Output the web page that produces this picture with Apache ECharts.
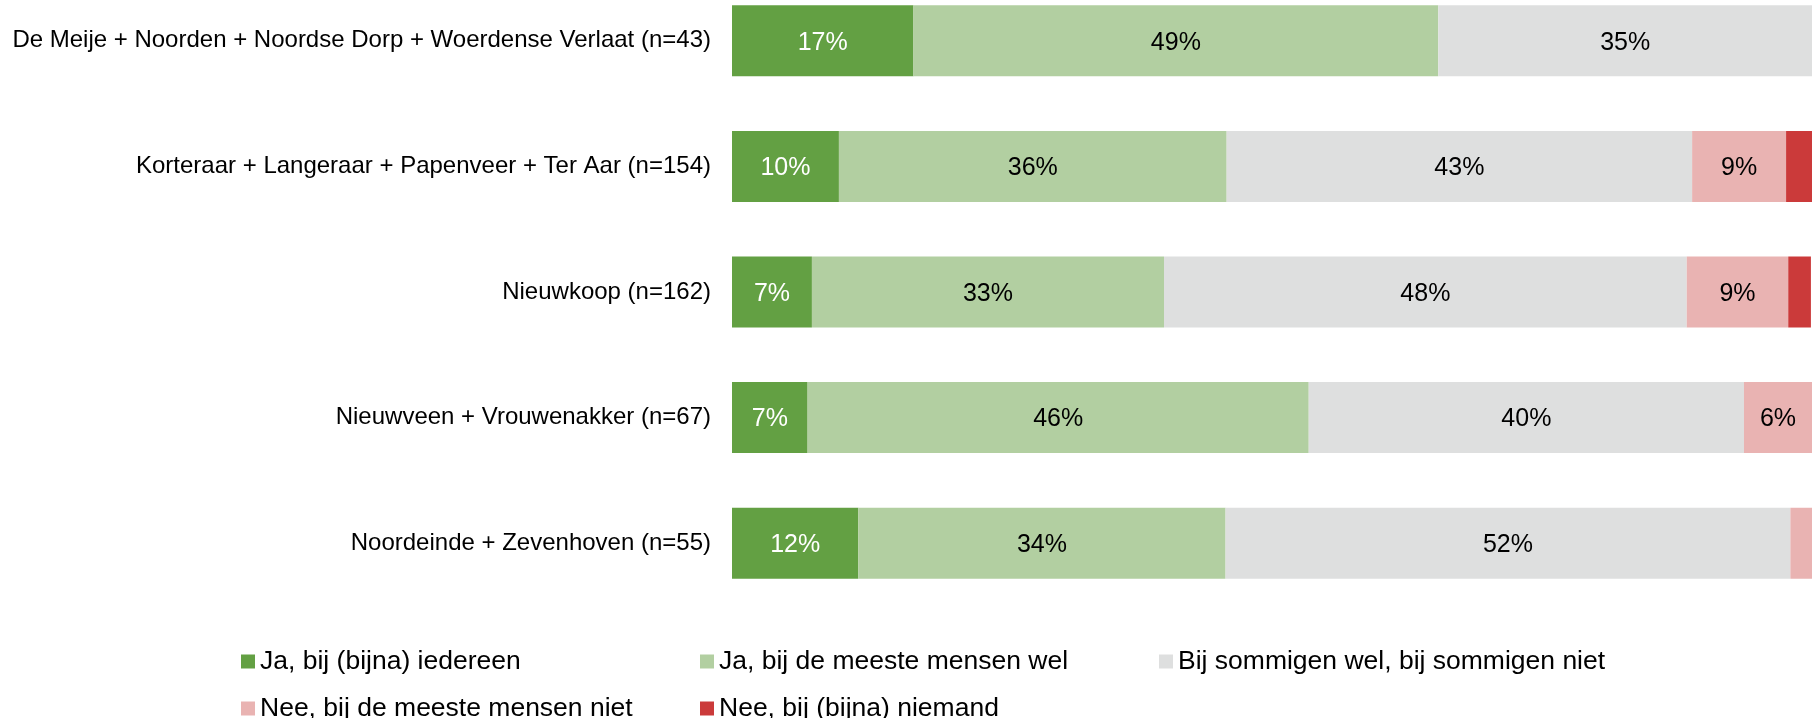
<!DOCTYPE html>
<html>
<head>
<meta charset="utf-8">
<script src="https://cdn.jsdelivr.net/npm/echarts@6/dist/echarts.min.js"></script>
<style>
html,body{margin:0;padding:0;background:#fff;}
#chart{width:1817px;height:718px;}
</style>
</head>
<body>
<div id="chart"></div>
<script>
var categories = [
	'De Meije + Noorden + Noordse Dorp + Woerdense Verlaat (n=43)',
	'Korteraar + Langeraar + Papenveer + Ter Aar (n=154)',
	'Nieuwkoop (n=162)',
	'Nieuwveen + Vrouwenakker (n=67)',
	'Noordeinde + Zevenhoven (n=55)'
];
var seriesNames = [
	'Ja, bij (bijna) iedereen',
	'Ja, bij de meeste mensen wel',
	'Bij sommigen wel, bij sommigen niet',
	'Nee, bij de meeste mensen niet',
	'Nee, bij (bijna) niemand'
];
var jaIedereen = [16.8, 9.9, 7.4, 7.0, 11.7];
var jaMeeste = [48.6, 35.9, 32.6, 46.4, 34.0];
var sommigen = [34.6, 43.1, 48.4, 40.3, 52.3];
var neeMeeste = [0, 8.7, 9.4, 6.3, 2.0];
var neeNiemand = [0, 2.4, 2.1, 0, 0];

var colors = ['#63a043', '#b2cfa1', '#dedfdf', '#e9b3b2', '#cb3a3a'];
var labelColors = ['#fff', '#000', '#000', '#000', '#000'];
var values = [jaIedereen, jaMeeste, sommigen, neeMeeste, neeNiemand];

var myChart = echarts.init(document.getElementById('chart'));

var series = [];
for (var i = 0; i < values.length; i++) {
	series.push({
		name: seriesNames[i],
		type: 'bar',
		stack: 'totaal',
		barWidth: 71,
		data: values[i],
		itemStyle: {color: colors[i]},
		label: {
			show: true,
			position: 'inside',
			offset: [0, 2],
			color: labelColors[i],
			fontSize: 25,
			fontFamily: 'Liberation Sans',
			formatter: function (p) {
				// kleine stukjes krijgen geen label
				if (p.value < 4) return '';
				return Math.round(p.value) + '%';
			}
		}
	});
}

var option = {
	animation: false,
	textStyle: {fontFamily: 'Liberation Sans'},
	grid: {left: 732, right: 5, top: -22, bottom: 112, outerBoundsMode: 'none', containLabel: false},
	xAxis: {type: 'value', min: 0, max: 100, show: false},
	yAxis: {
		type: 'category',
		inverse: true,
		data: categories,
		axisLine: {show: false},
		axisTick: {show: false},
		axisLabel: {fontSize: 24, color: '#000', margin: 21, padding: [4, 0, 0, 0], fontFamily: 'Liberation Sans'}
	},
	legend: {
		left: 236,
		top: 643,
		width: 1400,
		itemWidth: 14,
		itemHeight: 14,
		itemGap: 20,
		icon: 'rect',
		data: seriesNames,
		textStyle: {fontSize: 26.5, color: '#000', width: 420, lineHeight: 24, fontFamily: 'Liberation Sans'}
	},
	series: series
};

myChart.setOption(option);
</script>
</body>
</html>
